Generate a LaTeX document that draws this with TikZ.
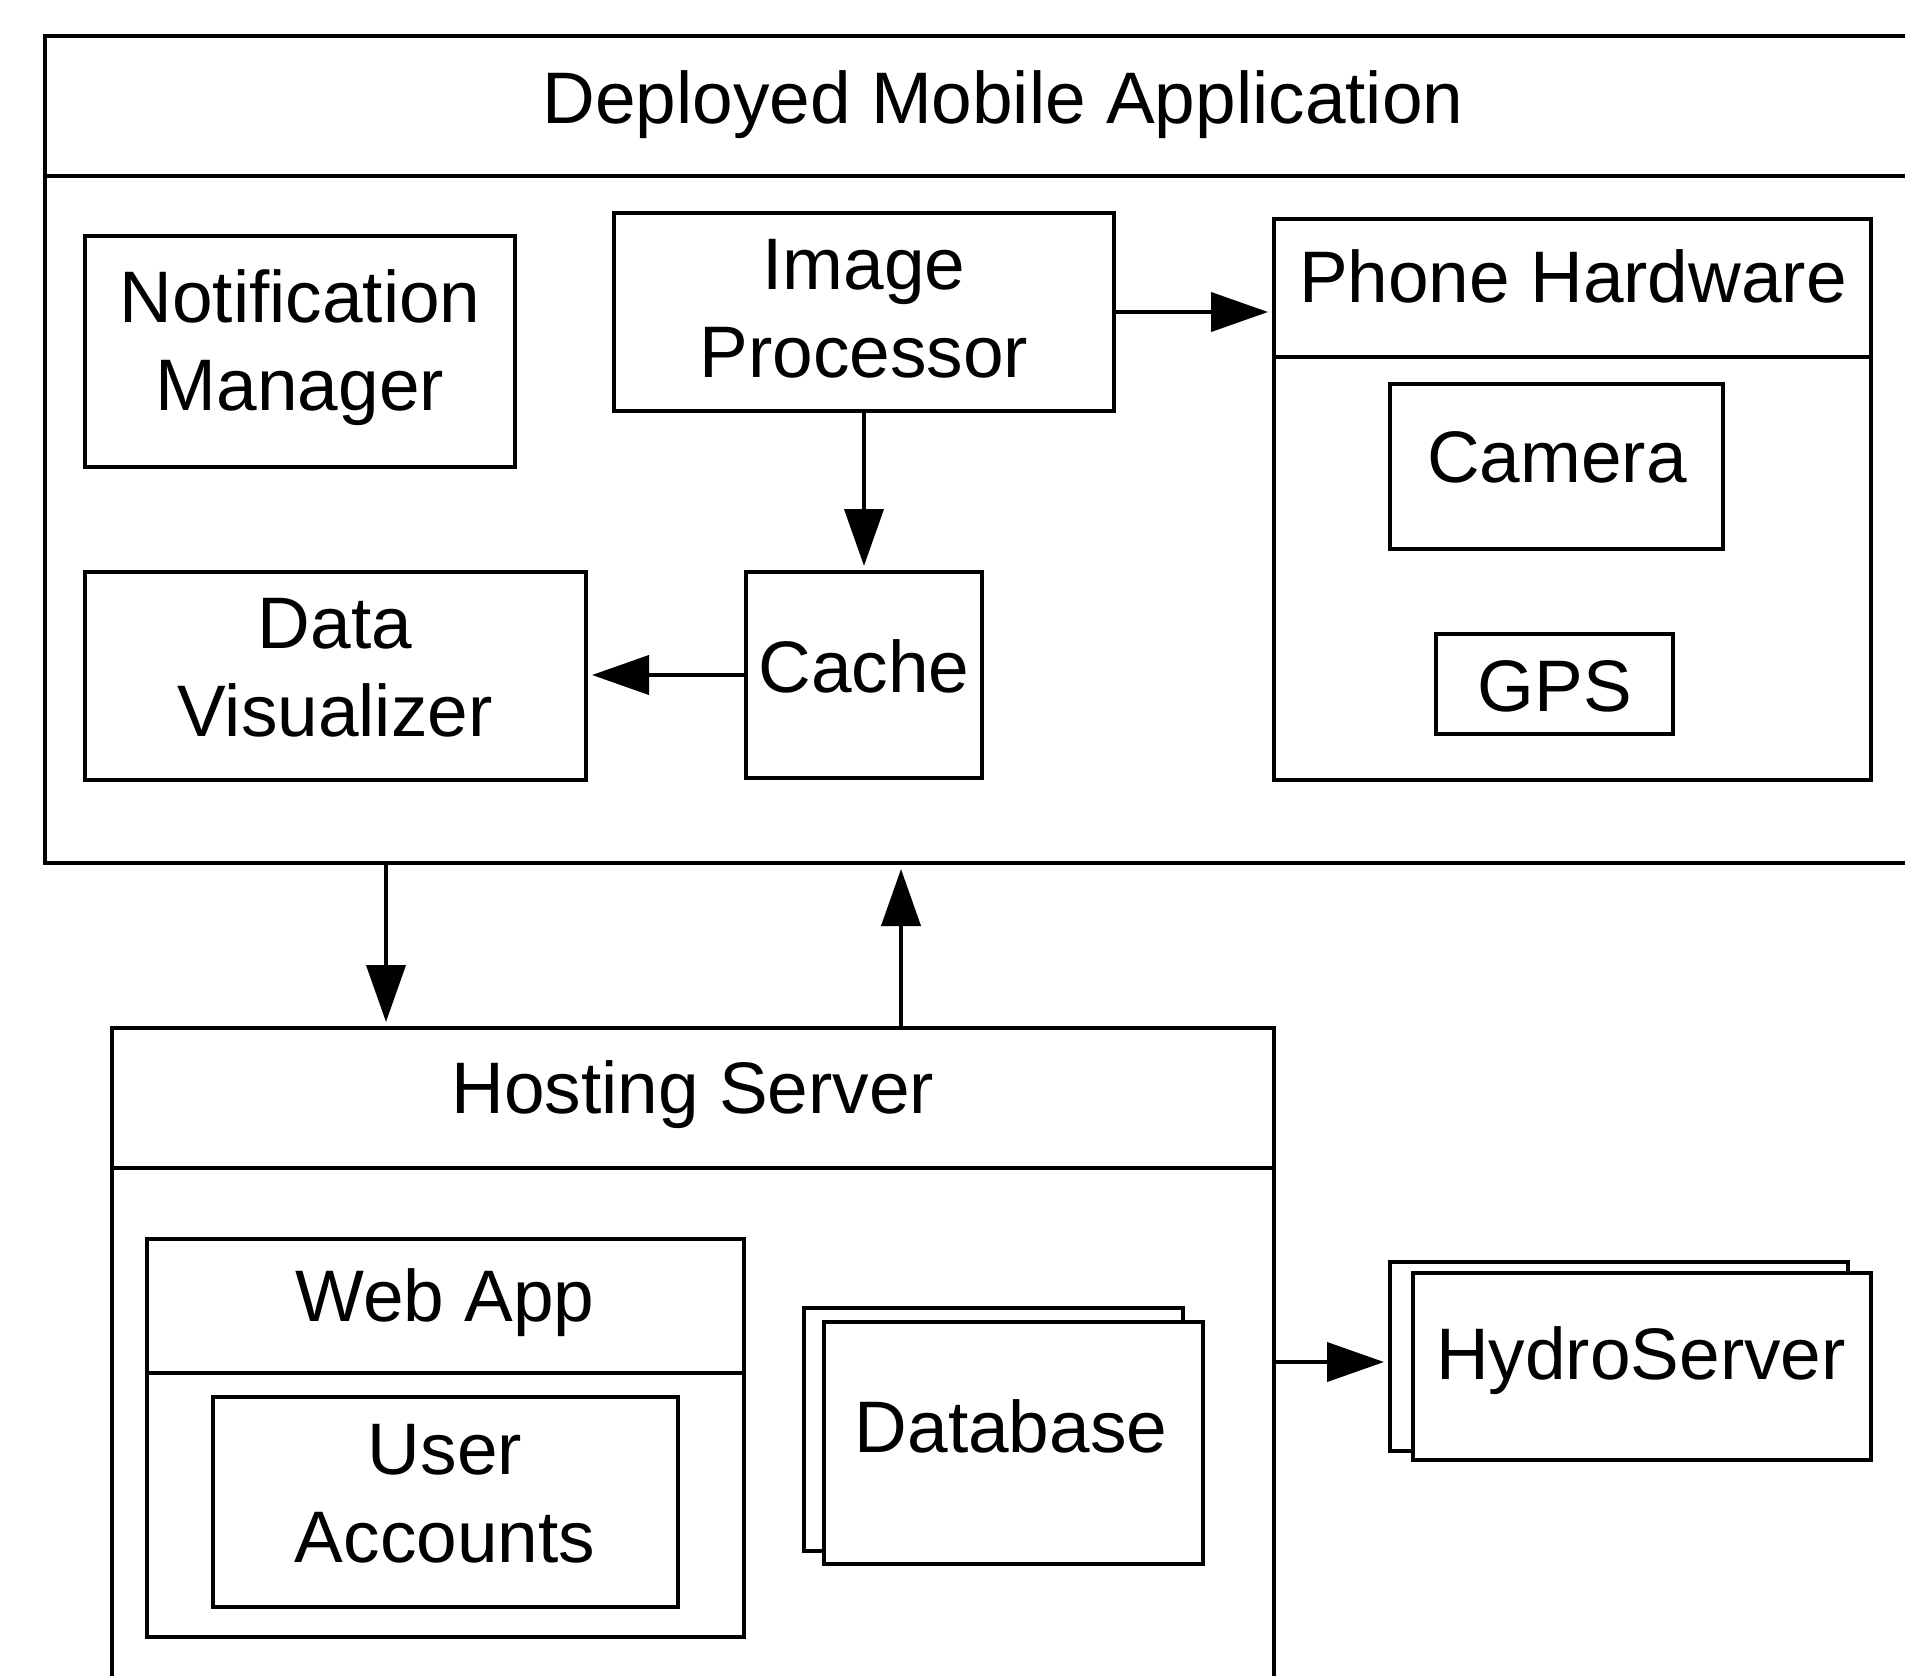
\documentclass[tikz,border=0pt]{standalone}
\usepackage{fontspec}
\setmainfont{Liberation Sans}
\usetikzlibrary{arrows.meta,fit}
% strut giving every text line the same height and depth
\newcommand\sstrut{\rule[-0.21em]{0pt}{0.96em}}
\begin{document}
\begin{tikzpicture}[x=0.5pt,y=-0.5pt,line width=2pt,
  box/.style={draw,line width=2pt,fill=white,inner sep=0pt},
  lbl/.style={font=\fontsize{36.5}{44}\selectfont,align=center,inner sep=0pt},
  arr/.style={-{Triangle[length=28.5pt,width=19.5pt]},line width=2pt,shorten >=2pt}]
\useasboundingbox (0,0) rectangle (1905,1675);
\fill[white] (0,0) rectangle (1905,1675);
\clip (0,0) rectangle (1905,1675);

% containers
\node[box,fit={(45,36) (1930,863)}] (mobile) {};
\node[box,fit={(112,1028) (1274,1700)}] (host) {};
\coordinate (mobhead) at (0,176);
\coordinate (hosthead) at (0,1168);
\draw (mobile.west |- mobhead) -- (mobile.east |- mobhead);
\draw (host.west |- hosthead) -- (host.east |- hosthead);
\node[lbl] (mobile-t) at (1003,103.3) {\sstrut Deployed Mobile Application};
\node[lbl] (host-t) at (693,1093.3) {\sstrut Hosting Server};

% mobile application parts
\node[box,fit={(85,236) (515,467)}] (notif) {};
\node[lbl] (notif-t) at (300,346.3) {\sstrut Notification\\\sstrut Manager};
\node[box,fit={(614,213) (1114,411)}] (imgproc) {};
\node[lbl] (imgproc-t) at (864,313.3) {\sstrut Image\\\sstrut Processor};
\node[box,fit={(85,572) (586,780)}] (datavis) {};
\node[lbl] (datavis-t) at (335,672.3) {\sstrut Data\\\sstrut Visualizer};
\node[box,fit={(746,572) (982,778)}] (cache) {};
\node[lbl] (cache-t) at (864,672.3) {\sstrut Cache};

% phone hardware
\node[box,fit={(1274,219) (1871,780)}] (phone) {};
\coordinate (phonehead) at (0,357);
\draw (phone.west |- phonehead) -- (phone.east |- phonehead);
\node[lbl] (phone-t) at (1573,282.3) {\sstrut Phone Hardware};
\node[box,fit={(1390,384) (1723,549)}] (camera) {};
\node[lbl] (camera-t) at (1557,462.3) {\sstrut Camera};
\node[box,fit={(1436,634) (1673,734)}] (gps) {};
\node[lbl] (gps-t) at (1555,691.3) {\sstrut GPS};

% hosting server parts
\node[box,fit={(147,1239) (744,1637)}] (webapp) {};
\coordinate (webhead) at (0,1373);
\draw (webapp.west |- webhead) -- (webapp.east |- webhead);
\node[lbl] (webapp-t) at (445,1301.3) {\sstrut Web App};
\node[box,fit={(213,1397) (678,1607)}] (users) {};
\node[lbl] (users-t) at (445,1498.3) {\sstrut User\\\sstrut Accounts};
\node[box,fit={(804,1308) (1183,1551)}] (dbback) {};
\node[box,fit={(824,1322) (1203,1564)}] (db) {};
\node[lbl] (db-t) at (1011,1432.3) {\sstrut Database};

% external server
\node[box,fit={(1390,1262) (1848,1451)}] (hydroback) {};
\node[box,fit={(1413,1273) (1871,1460)}] (hydro) {};
\node[lbl] (hydro-t) at (1641,1359.3) {\sstrut HydroServer};

% connectors
\draw[arr] (imgproc.east) -- (imgproc.east -| phone.west);
\draw[arr] (imgproc.south) -- (cache.north);
\draw[arr] (cache.west) -- (cache.west -| datavis.east);
\coordinate (downx) at (386,0);
\coordinate (upx) at (901,0);
\coordinate (hydroy) at (0,1362);
\draw[arr] (mobile.south -| downx) -- (host.north -| downx);
\draw[arr] (host.north -| upx) -- (mobile.south -| upx);
\draw[arr] (host.east |- hydroy) -- (hydroback.west |- hydroy);
\end{tikzpicture}
\end{document}
